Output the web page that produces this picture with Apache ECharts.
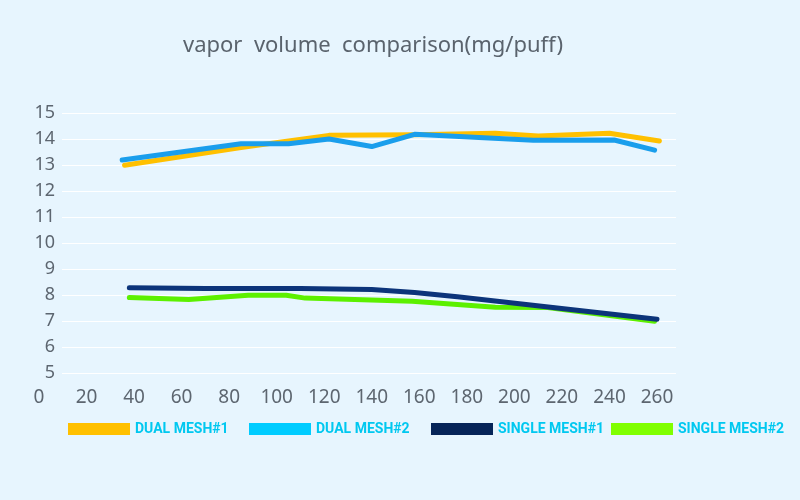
<!DOCTYPE html>
<html>
<head>
<meta charset="utf-8">
<script src="https://cdn.jsdelivr.net/npm/echarts@6/dist/echarts.min.js"></script>
<style>html,body{margin:0;padding:0;background:#E7F5FE;}#c{width:800px;height:500px;}</style>
</head>
<body>
<div id="c"></div>
<script>
const titleText = 'vapor  volume  comparison(mg/puff)';
const seriesNames = ['DUAL MESH#1', 'DUAL MESH#2', 'SINGLE MESH#1', 'SINGLE MESH#2'];
const xTickLabels = [0, 20, 40, 60, 80, 100, 120, 140, 160, 180, 200, 220, 240, 260];
const yTickLabels = [5, 6, 7, 8, 9, 10, 11, 12, 13, 14, 15];

const dualMesh1X = [36, 85, 122, 158, 192, 210, 240, 261];
const dualMesh1Y = [12.99, 13.67, 14.14, 14.16, 14.22, 14.12, 14.22, 13.92];
const dualMesh2X = [35, 85, 105, 122, 140, 158, 208, 242, 259];
const dualMesh2Y = [13.19, 13.82, 13.82, 14.0, 13.71, 14.18, 13.95, 13.96, 13.57];
const singleMesh1X = [38, 70, 110, 140, 158, 176, 260];
const singleMesh1Y = [8.28, 8.25, 8.25, 8.21, 8.1, 7.93, 7.07];
const singleMesh2X = [38, 63, 88, 104, 112, 157, 192, 214, 259];
const singleMesh2Y = [7.9, 7.83, 7.99, 7.99, 7.88, 7.76, 7.53, 7.52, 6.99];

const zip = (xs, ys) => xs.map((x, i) => [x, ys[i]]);
const lineColors = ['#FFC000', '#1A9EEC', '#0C347A', '#5CF000'];
const legendColors = ['#FFC000', '#00CCFF', '#062458', '#80FF00'];
const legendLeft = [68, 249, 431, 611];
const seriesData = [
  zip(dualMesh1X, dualMesh1Y),
  zip(dualMesh2X, dualMesh2Y),
  zip(singleMesh1X, singleMesh1Y),
  zip(singleMesh2X, singleMesh2Y)
];
const zOrder = [2, 3, 5, 4];
const axisGrey = '#5d6670';

const chart = echarts.init(document.getElementById('c'), null, {renderer: 'canvas'});
const option = {
  backgroundColor: '#E7F5FE',
  animation: false,
  title: {
    text: titleText, left: 178, top: 30,
    textStyle: {fontFamily: 'Noto Sans', fontSize: 22, fontWeight: 'normal', color: '#5a636d'}
  },
  grid: [
    {left: 39, right: 124, top: 113, bottom: 127},
    {left: 62, right: 124, top: 113, bottom: 127}
  ],
  xAxis: [
    {
      type: 'value', gridIndex: 0, min: 0, max: 268, interval: 20,
      axisLine: {show: false}, axisTick: {show: false}, splitLine: {show: false},
      axisLabel: {
        fontFamily: 'Noto Sans', fontSize: 19, color: axisGrey, margin: 15,
        formatter: v => (xTickLabels.indexOf(v) >= 0 ? String(v) : '')
      }
    },
    {type: 'value', gridIndex: 1, min: 0, max: 1, show: false}
  ],
  yAxis: [
    {type: 'value', gridIndex: 0, min: 5, max: 15, show: false},
    {
      type: 'value', gridIndex: 1, min: 5, max: 15, interval: 1,
      axisLine: {show: false}, axisTick: {show: false},
      splitLine: {lineStyle: {color: '#ffffff', width: 1}},
      axisLabel: {
        fontFamily: 'Noto Sans', fontSize: 18, color: axisGrey, margin: 7,
        padding: [0, 0, 14, 0],
        formatter: v => (yTickLabels.indexOf(v) >= 0 ? String(v) : '')
      }
    }
  ],
  legend: seriesNames.map((n, i) => ({
    data: [n], left: legendLeft[i], top: 422, padding: 0,
    itemWidth: 62, itemHeight: 12, icon: 'rect', selectedMode: false,
    textStyle: {fontFamily: 'Roboto', fontWeight: 'bold', fontSize: 14, color: '#00C8F0'}
  })),
  series: seriesNames.map((n, i) => ({
    name: n, type: 'line', xAxisIndex: 0, yAxisIndex: 0,
    data: seriesData[i], symbol: 'none', z: zOrder[i],
    itemStyle: {color: legendColors[i]},
    lineStyle: {color: lineColors[i], width: 5, cap: 'round', join: 'round'}
  }))
};
chart.setOption(option);
</script>
</body>
</html>
